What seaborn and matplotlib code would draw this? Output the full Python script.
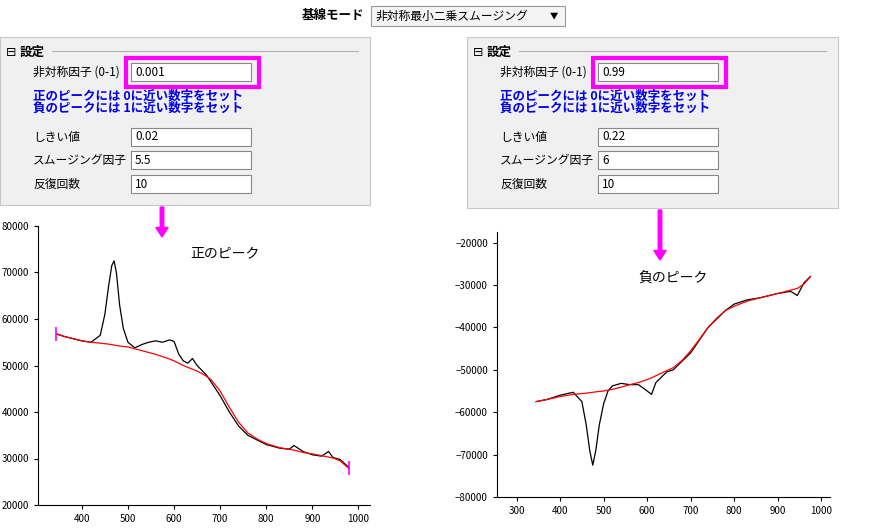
import numpy as np
import pandas as pd
import seaborn as sns
import matplotlib.pyplot as plt
from matplotlib.patches import Rectangle, FancyArrow

plt.rcParams['font.family'] = ['Noto Sans CJK JP', 'DejaVu Sans']

# Left chart (positive peak)
pos_x = [345, 360, 380, 400, 420, 440, 450, 458, 465, 470, 475, 482, 490, 500, 515, 530, 545, 560, 575, 590, 600, 610, 620, 630, 640, 650, 660, 670, 680, 700, 720, 740, 760, 780, 800, 830, 850, 860, 880, 900, 920, 935, 945, 960, 980]
pos_y = [56800, 56300, 55800, 55300, 55000, 56500, 61000, 67000, 71500, 72500, 70000, 63000, 58000, 55000, 53800, 54500, 55000, 55300, 55000, 55500, 55200, 52500, 51000, 50500, 51500, 50000, 49000, 48000, 46500, 43500, 40000, 37000, 35000, 34000, 33000, 32200, 32000, 32800, 31500, 30800, 30500, 31500, 30200, 29800, 28000]
pos_base = [56800, 56300, 55800, 55300, 55000, 54800, 54700, 54600, 54500, 54400, 54300, 54200, 54100, 54000, 53600, 53200, 52800, 52400, 51900, 51400, 51000, 50500, 50000, 49600, 49200, 48800, 48300, 47700, 47000, 44500, 41000, 37800, 35500, 34200, 33200, 32300, 32000, 31800, 31300, 31000, 30600, 30300, 30100, 29500, 27800]

# Right chart (negative peak)
neg_x = [345, 370, 400, 430, 450, 460, 468, 475, 482, 490, 500, 510, 520, 540, 560, 580, 600, 610, 620, 630, 645, 660, 680, 700, 720, 740, 760, 780, 800, 830, 860, 900, 930, 945, 960, 975]
neg_y = [-57500, -57000, -56000, -55300, -57500, -63000, -69000, -72500, -69000, -63000, -58000, -55000, -53800, -53200, -53500, -53500, -55000, -55800, -53000, -52000, -50500, -50000, -48000, -46000, -43000, -40000, -38000, -36000, -34500, -33500, -33000, -32000, -31500, -32500, -29500, -28000]
neg_base = [-57500, -57000, -56300, -55800, -55600, -55500, -55400, -55300, -55200, -55100, -55000, -54800, -54600, -54100, -53500, -53000, -52300, -51900, -51400, -50900, -50200, -49500, -47800, -45500, -42800, -40000, -37800, -36000, -35000, -33800, -33000, -32000, -31200, -30800, -29800, -28000]

W, H = 875, 529
fig = plt.figure(figsize=(W/100, H/100), dpi=100)
fig.patch.set_facecolor('white')

def fx(x): return x / W
def fy(y): return 1 - y / H
def ax_rect(l, t, r, b): return [fx(l), fy(b), (r-l)/W, (b-t)/H]
def rect(l, t, r, b, **kw):
    fig.patches.append(Rectangle((fx(l), fy(b)), (r-l)/W, (b-t)/H, transform=fig.transFigure, **kw))
def txt(x, y, s, **kw):
    kw.setdefault('fontsize', 8.5)
    kw.setdefault('va', 'center')
    fig.text(fx(x), fy(y), s, **kw)

def panel(ox, oy, w, h, vals):
    rect(ox, oy, ox+w, oy+h, facecolor='#f0f0f0', edgecolor='#c8c8c8', lw=0.8)
    txt(ox+6, oy+15, '⊟', fontsize=9)
    txt(ox+20, oy+15, '設定', fontsize=9, fontweight='bold')
    fig.add_artist(plt.Line2D([fx(ox+52), fx(ox+w-12)], [fy(oy+14)]*2, color='#b0b0b0', lw=0.8))
    labels = ['非対称因子 (0-1)', 'しきい値', 'スムージング因子', '反復回数']
    ys = [oy+35, oy+100, oy+123, oy+147]
    for lab, yy, v in zip(labels, ys, vals):
        txt(ox+33, yy, lab)
        rect(ox+131, yy-9, ox+251, yy+9, facecolor='white', edgecolor='#888888', lw=0.8)
        txt(ox+135, yy, v)
    rect(ox+126, oy+21, ox+259, oy+50, facecolor='none', edgecolor='#ff00ff', lw=3)
    txt(ox+33, oy+59, '正のピークには 0に近い数字をセット', color='#0000ee', fontweight='bold', fontsize=9)
    txt(ox+33, oy+71, '負のピークには 1に近い数字をセット', color='#0000ee', fontweight='bold', fontsize=9)

panel(0, 37, 370, 168, ['0.001', '0.02', '5.5', '10'])
panel(467, 37, 371, 171, ['0.99', '0.22', '6', '10'])

txt(302, 16, '基線モード', fontweight='bold', fontsize=9)
rect(371, 6, 565, 26, facecolor='#f4f4f4', edgecolor='#999999', lw=0.8)
txt(376, 16, '非対称最小二乗スムージング', fontsize=8.5)
txt(550, 16, '▼', fontsize=6)

for x0, y0, y1 in [(162, 207, 237), (660, 210, 260)]:
    fig.add_artist(FancyArrow(fx(x0), fy(y0), 0, fy(y1)-fy(y0), width=0.004, head_width=0.014,
                              head_length=0.018, length_includes_head=True, color='#ff00ff', transform=fig.transFigure))

def chart(rectpx, x, y, base, xlim, ylim, yticks):
    ax = fig.add_axes(ax_rect(*rectpx))
    sns.lineplot(x=x, y=y, ax=ax, color='black', lw=0.9, sort=False)
    sns.lineplot(x=x, y=base, ax=ax, color='red', lw=0.9, sort=False)
    ax.set_xlim(*xlim); ax.set_ylim(*ylim)
    ax.set_xticks([300, 400, 500, 600, 700, 800, 900, 1000])
    ax.set_yticks(yticks)
    ax.tick_params(labelsize=7, length=3)
    ax.spines['top'].set_visible(False); ax.spines['right'].set_visible(False)
    return ax

axL = chart((38, 226, 370, 505), pos_x, pos_y, pos_base, (305, 1025), (20000, 80000),
            list(range(20000, 80001, 10000)))
axL.set_xticks([400, 500, 600, 700, 800, 900, 1000], minor=False)
axL.set_xticks([300, 400, 500, 600, 700, 800, 900, 1000])
axL.set_xticklabels(['300', '400', '500', '600', '700', '800', '900', '1000'])
axL.set_xlim(305, 1025)
axL.plot([pos_x[0], pos_x[-1]], [pos_y[0], pos_y[-1]], ls='none', marker='|', ms=10, mew=1.2, color='#ff00ff')
txt(190, 253, '正のピーク', fontsize=10)

axR = chart((497, 232, 830, 497), neg_x, neg_y, neg_base, (255, 1020), (-80000, -17500),
            list(range(-80000, -19999, 10000)))
txt(638, 278, '負のピーク', fontsize=10)

fig.savefig('out.png', dpi=100)
